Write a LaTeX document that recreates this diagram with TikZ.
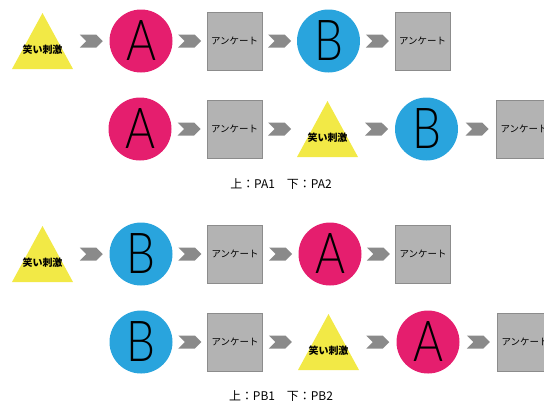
\documentclass[tikz,border=0pt]{standalone}
\usepackage{fontspec}
\setmainfont{Noto Sans CJK JP}
\newfontfamily\jp{Noto Sans CJK JP}
\newfontfamily\thinfont{Lato Light}
\usetikzlibrary{shapes.symbols,calc}
\definecolor{pinkA}{HTML}{E51E6E}
\definecolor{blueB}{HTML}{29A4DD}
\definecolor{ylw}{HTML}{F2E946}
\definecolor{boxgray}{HTML}{B3B3B3}
\definecolor{boxborder}{HTML}{8C8C8C}
\definecolor{chevgray}{HTML}{8A8A8A}
\newcommand{\letterAB}[1]{\scalebox{0.85}[1.05]{#1}}
\tikzset{
  circ/.style={circle, minimum size=63bp, inner sep=0pt,
    font=\thinfont\fontsize{54}{54}\selectfont},
  circA/.style={circ, fill=pinkA},
  circB/.style={circ, fill=blueB},
  box/.style={rectangle, draw=boxborder, line width=1bp, fill=boxgray,
    minimum width=55bp, minimum height=58bp, inner sep=0pt,
    font=\jp\fontsize{9.5}{10}\selectfont},
  tri/.style={rectangle, minimum width=61bp, minimum height=56bp, inner sep=0pt,
    path picture={\fill[ylw] (path picture bounding box.south west) --
      (path picture bounding box.north) -- (path picture bounding box.south east) -- cycle;},
    label={[yshift=-9bp, font=\jp\bfseries\fontsize{10}{10}\selectfont]center:笑い刺激}},
  chev/.style={signal, signal to=east, signal from=west, fill=chevgray,
    minimum width=23bp, minimum height=13bp, inner sep=0pt},
  caption/.style={font=\jp\fontsize{12}{12}\selectfont}
}
\begin{document}
\begin{tikzpicture}[x=1bp, y=-1bp]
\useasboundingbox (0,0) rectangle (544,407);
% Row 1
\node[tri]   (r1a) at (42.5,41) {};
\node[circA] (r1b) at (141,41) {\letterAB{A}};
\node[box]   (r1c) at (234.5,41) {アンケート};
\node[circB] (r1d) at (328.5,41) {\letterAB{B}};
\node[box]   (r1e) at (422.5,41) {アンケート};
% Row 2
\node[circA] (r2a) at (140,129) {\letterAB{A}};
\node[box]   (r2b) at (234.5,129) {アンケート};
\node[tri]   (r2c) at (327.5,129) {};
\node[circB] (r2d) at (426.5,129) {\letterAB{B}};
\node[box]   (r2e) at (524,129) {アンケート};
\node[caption] (l1) at (281,184) {上：PA1\quad 下：PA2};
% Row 3
\node[tri]   (r3a) at (42.5,254) {};
\node[circB] (r3b) at (141,254) {\letterAB{B}};
\node[box]   (r3c) at (235,254) {アンケート};
\node[circA] (r3d) at (330,254) {\letterAB{A}};
\node[box]   (r3e) at (423,254) {アンケート};
% Row 4
\node[circB] (r4a) at (141,342) {\letterAB{B}};
\node[box]   (r4b) at (235,342) {アンケート};
\node[tri]   (r4c) at (328.5,342) {};
\node[circA] (r4d) at (428,342) {\letterAB{A}};
\node[box]   (r4e) at (525,342) {アンケート};
\node[caption] (l2) at (281,396) {上：PB1\quad 下：PB2};
% Chevrons
\foreach \r in {1,2,3,4}{
  \foreach \p/\q in {a/b,b/c,c/d,d/e}{
    \node[chev] at ($(r\r\p.east)!0.5!(r\r\q.west)$) {};
  }
}
\end{tikzpicture}
\end{document}
